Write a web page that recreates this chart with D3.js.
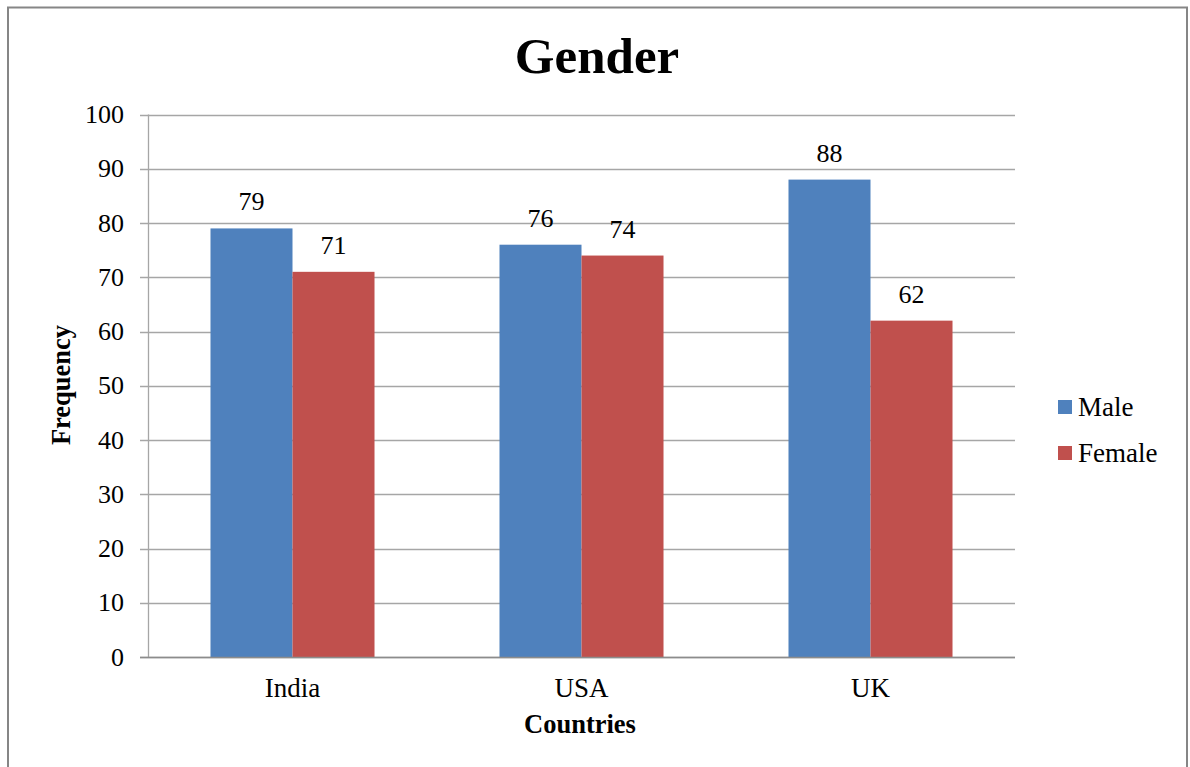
<!DOCTYPE html>
<html><head><meta charset="utf-8">
<script src="https://cdn.jsdelivr.net/npm/d3@7"></script>
<style>body{margin:0;background:#fff}svg{display:block}</style>
</head><body>
<script>
const categories = ["India", "USA", "UK"];
const seriesNames = ["Male", "Female"];
const male = [79, 76, 88];
const female = [71, 74, 62];
const yTicks = [0, 10, 20, 30, 40, 50, 60, 70, 80, 90, 100];
const colors = ["#4F81BD", "#C0504D"];

const W = 1190, H = 767;
const font = "'Liberation Serif', 'Times New Roman', serif";
const svg = d3.select("body").append("svg").attr("width", W).attr("height", H);
svg.append("rect").attr("x", 0).attr("y", 0).attr("width", W).attr("height", H).attr("fill", "#fff");
svg.append("rect").attr("x", 8).attr("y", 7.5).attr("width", 1179).attr("height", 780)
  .attr("fill", "none").attr("stroke", "#868686").attr("stroke-width", 2);

const L = 148, R = 1015, T = 114.5, B = 657;
const x0 = d3.scaleBand().domain(categories).range([L, R]).paddingInner(0).paddingOuter(0);
const x1 = d3.scaleBand().domain(seriesNames).range([0, x0.bandwidth()]).paddingInner(0).paddingOuter(0.762);
const y = d3.scaleLinear().domain([0, 100]).range([B, T]);

// gridlines
svg.append("g").selectAll("line").data(yTicks).join("line")
  .attr("x1", L - 8).attr("x2", R).attr("y1", d => Math.round(y(d)) + 0.5).attr("y2", d => Math.round(y(d)) + 0.5)
  .attr("stroke", "#a6a6a6").attr("stroke-width", 1.3);
svg.append("line").attr("x1", L + 0.5).attr("x2", L + 0.5).attr("y1", T).attr("y2", B)
  .attr("stroke", "#a6a6a6").attr("stroke-width", 1.3);

// tick labels
svg.append("g").selectAll("text").data(yTicks).join("text")
  .attr("x", 124).attr("y", d => y(d) + 8.5).attr("text-anchor", "end")
  .attr("font-family", font).attr("font-size", 26).attr("fill", "#000").text(d => d);

const data = categories.map((c, i) => ({c, vals: [male[i], female[i]]}));
const g = svg.append("g");
data.forEach(d => {
  d.vals.forEach((v, j) => {
    const bx = x0(d.c) + x1(seriesNames[j]);
    g.append("rect").attr("x", bx).attr("y", y(v)).attr("width", x1.bandwidth()).attr("height", y(0) - y(v))
      .attr("fill", colors[j]);
    g.append("text").attr("x", bx + x1.bandwidth() / 2).attr("y", y(v) - 18)
      .attr("text-anchor", "middle").attr("font-family", font).attr("font-size", 26).text(v);
  });
});
// baseline axis
svg.append("line").attr("x1", L - 8).attr("x2", R).attr("y1", B + 0.5).attr("y2", B + 0.5)
  .attr("stroke", "#8c8c8c").attr("stroke-width", 1.5);

// category labels
svg.append("g").selectAll("text").data(categories).join("text")
  .attr("x", d => x0(d) + x0.bandwidth() / 2).attr("y", 697).attr("text-anchor", "middle")
  .attr("font-family", font).attr("font-size", 27).text(d => d);

// titles
svg.append("text").attr("x", 597).attr("y", 73).attr("text-anchor", "middle")
  .attr("font-family", font).attr("font-size", 51).attr("font-weight", "bold").text("Gender");
svg.append("text").attr("x", 580).attr("y", 733).attr("text-anchor", "middle")
  .attr("font-family", font).attr("font-size", 26.5).attr("font-weight", "bold").text("Countries");
svg.append("text").attr("transform", "translate(70,385) rotate(-90)").attr("text-anchor", "middle")
  .attr("font-family", font).attr("font-size", 26.5).attr("font-weight", "bold").text("Frequency");

// legend
const lg = svg.append("g");
seriesNames.forEach((s, i) => {
  lg.append("rect").attr("x", 1058).attr("y", 400 + i * 46).attr("width", 14).attr("height", 14).attr("fill", colors[i]);
  lg.append("text").attr("x", 1078).attr("y", 416 + i * 46).attr("font-family", font).attr("font-size", 27).text(s);
});
</script>
</body></html>
